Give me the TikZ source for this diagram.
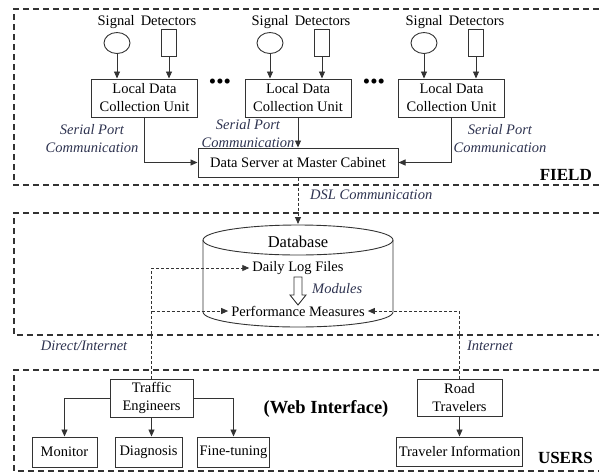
\documentclass[tikz,border=0pt]{standalone}
\usepackage{fontspec}
\setmainfont{Liberation Serif}
\usepackage{tikz}
\usetikzlibrary{arrows.meta, shapes.geometric}
\usepackage{xcolor}
\definecolor{inkline}{HTML}{333333}
\definecolor{inklabel}{HTML}{2E3350}
\newcommand{\boxfont}{\fontsize{14.5}{18}\selectfont}
\newcommand{\headfont}{\fontsize{17}{20}\selectfont\bfseries}

\begin{document}
\begin{tikzpicture}[
  x=1pt, y=-1pt,
  frame/.style={draw=inkline, line width=1.4pt, dash pattern=on 6pt off 4pt},
  unitbox/.style={draw=inkline, line width=1pt, align=center, inner sep=1pt,
    font=\boxfont, minimum width=106pt, minimum height=38pt},
  smallbox/.style={draw=inkline, line width=1pt, align=center, inner sep=2pt,
    font=\boxfont, minimum height=30pt},
  lbl/.style={font=\boxfont\itshape, text=inklabel, align=center, inner sep=0pt},
  sensor/.style={draw=inkline, line width=0.9pt, ellipse, minimum width=26pt,
    minimum height=21pt, inner sep=0pt},
  loop/.style={draw=inkline, line width=0.9pt, minimum width=15pt,
    minimum height=27pt, inner sep=0pt},
  link/.style={draw=inkline, line width=0.9pt, -{Triangle[length=7pt,width=6pt]}},
  web/.style={link, dash pattern=on 3pt off 2pt},
  more/.style={font=\fontsize{21}{21}\selectfont, inner sep=0pt}
]
  \useasboundingbox (0,0) rectangle (599,472);

  % zones
  \draw[frame] (599,9) -| (14,185) -- (599,185);
  \draw[frame] (599,213) -| (14,335) -- (599,335);
  \draw[frame] (599,370) -| (14,471) -- (599,471);
  \node[font=\headfont, anchor=east, inner sep=0pt] (field) at (592,175) {FIELD};
  \node[font=\headfont, anchor=east, inner sep=0pt] (users) at (593,458) {USERS};

  % field detectors and collection units
  \foreach \i/\cx/\sx/\lx/\tx in {1/144.5/117/169/147, 2/298/270/322/301, 3/451.5/424/476/455} {
    \node[font=\boxfont, inner sep=0pt] (sig\i) at (\tx,22) {Signal\, Detectors};
    \node[sensor] (circ\i) at (\sx,43) {};
    \node[loop] (rect\i) at (\lx,43) {};
    \node[unitbox] (ldcu\i) at (\cx,98) {Local Data\\Collection Unit};
    \draw[link] (circ\i) -- (circ\i |- ldcu\i.north);
    \draw[link] (rect\i) -- (rect\i |- ldcu\i.north);
  }
  \node[more] (dots1) at (220,84) {\textbullet\textbullet\textbullet};
  \node[more] (dots2) at (374,84) {\textbullet\textbullet\textbullet};

  \node[smallbox, minimum width=200pt, minimum height=29pt] (server) at (298,162.5)
    {Data Server at Master Cabinet};
  \draw[link] (ldcu1.south) |- (server.west);
  \draw[link] (ldcu2.south) -- (server.north);
  \draw[link] (ldcu3.south) |- (server.east);
  \node[lbl] (serial1) at (92,139) {Serial Port\\Communication};
  \node[lbl] (serial2) at (248,134) {Serial Port\\Communication};
  \node[lbl] (serial3) at (500,139) {Serial Port\\Communication};

  % database
  \draw[draw=inkline, line width=0.9pt] (298,240) ellipse [x radius=95pt, y radius=15pt];
  \draw[draw=inkline, line width=0.9pt] (203,240) -- (203,312)
    arc[start angle=180, end angle=360, x radius=95pt, y radius=15pt] -- (393,240);
  \coordinate (dbtop) at (298,224);
  \node[font=\fontsize{16.5}{20}\selectfont, inner sep=0pt] (db) at (298,242) {Database};
  \node[font=\boxfont, inner sep=3pt] (daily) at (298,268) {Daily Log Files};
  \node[font=\boxfont, inner sep=3pt] (perf) at (298,311) {Performance Measures};
  \draw[draw=inkline, line width=0.9pt] (294,277) -- (302,277) -- (302,295) -- (306,295)
    -- (298,305) -- (290,295) -- (294,295) -- cycle;
  \node[lbl, anchor=west] (modules) at (312,289) {Modules};
  \draw[web] (server.south) -- (dbtop);
  \node[lbl, anchor=west] (dsl) at (310,195) {DSL Communication};

  % users
  \node[smallbox, minimum width=83pt, minimum height=38pt, inner sep=1pt] (traffic) at (151.5,398)
    {Traffic\\Engineers};
  \node[smallbox, minimum width=85pt, minimum height=37pt, inner sep=1pt] (road) at (459.5,397.5)
    {Road\\Travelers};
  \node[smallbox, minimum width=65pt] (monitor) at (64.5,452) {Monitor};
  \node[smallbox, minimum width=67pt] (diag) at (148.5,452) {Diagnosis};
  \node[smallbox, minimum width=71pt] (fine) at (233.5,452) {Fine-tuning};
  \node[smallbox, minimum width=125pt, minimum height=29pt] (info) at (459.5,451.5)
    {Traveler Information};
  \draw[link] (traffic.west) -| (monitor.north);
  \draw[link] (traffic.south) -- (traffic.south |- diag.north);
  \draw[link] (traffic.east) -| (fine.north);
  \draw[link] (road.south) -- (info.north);
  \node[font=\fontsize{18.5}{22}\selectfont\bfseries, inner sep=0pt] (webif) at (326,409)
    {(Web Interface)};

  % access paths
  \draw[web] (traffic.north) |- (daily.west);
  \draw[web] (traffic.north |- perf.west) -- (perf.west);
  \draw[web] (road.north) |- (perf.east);
  \node[lbl] (direct) at (84,346) {Direct/Internet};
  \node[lbl] (internet) at (490,346) {Internet};
\end{tikzpicture}
\end{document}
